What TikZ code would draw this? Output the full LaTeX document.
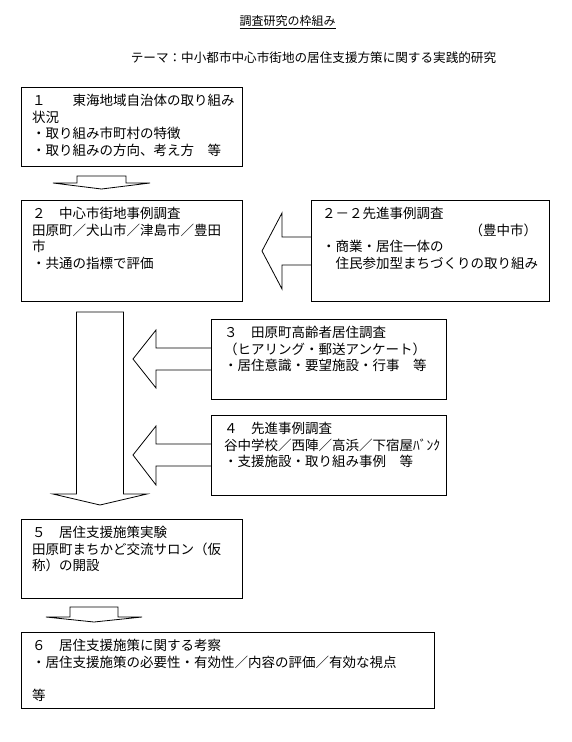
\documentclass[tikz,border=0pt]{standalone}
\usepackage{fontspec}
\setmainfont{Noto Sans CJK JP}
\newcommand\boxfont{\fontsize{13.5pt}{16.5pt}\selectfont}
\tikzset{
  box/.style={draw, line width=0.8pt, anchor=north west, inner sep=0pt},
  txt/.style={anchor=north west, align=left, inner xsep=11pt, inner ysep=7pt, font=\boxfont},
  blockarrow/.style={draw, line width=0.8pt, line join=miter}
}
\begin{document}
\begin{tikzpicture}[x=1pt, y=-1pt]
  \useasboundingbox (0,0) rectangle (572,742);
  % Titulos
  \node[font=\fontsize{12pt}{14pt}\selectfont] (titulo) at (287.5,22) {\underline{調査研究の枠組み}};
  \node[font=\fontsize{12.6pt}{14pt}\selectfont] (tema) at (313.5,58) {テーマ：中小都市中心市街地の居住支援方策に関する実践的研究};

  % Cajas
  \node[box, minimum width=221pt, minimum height=79pt] (b1) at (21,87) {};
  \node[box, minimum width=221pt, minimum height=101pt] (b2) at (21,200) {};
  \node[box, minimum width=238pt, minimum height=101pt] (b22) at (311,200) {};
  \node[box, minimum width=235pt, minimum height=80pt] (b3) at (211,319) {};
  \node[box, minimum width=235pt, minimum height=80pt] (b4) at (211,415) {};
  \node[box, minimum width=221pt, minimum height=79pt] (b5) at (21,519) {};
  \node[box, minimum width=413pt, minimum height=76pt] (b6) at (21,632) {};

  % Textos
  \node[txt] (t1) at (b1.north west) {１　　東海地域自治体の取り組み\\状況\\・取り組み市町村の特徴\\・取り組みの方向、考え方　等};
  \node[txt] (t2) at (b2.north west) {２　中心市街地事例調査\\田原町／犬山市／津島市／豊田\\市\\・共通の指標で評価};
  \node[txt, text width=215pt] (t22) at (b22.north west) {２－２先進事例調査\\\hspace*{\fill}（豊中市）\\・商業・居住一体の\\　住民参加型まちづくりの取り組み};
  \node[txt, inner xsep=13pt] (t3) at (b3.north west) {３　田原町高齢者居住調査\\（ヒアリング・郵送アンケート）\\・居住意識・要望施設・行事　等};
  \node[txt, inner xsep=13pt] (t4) at (b4.north west) {４　先進事例調査\\谷中学校／西陣／高浜／下宿屋ﾊﾞﾝｸ\\・支援施設・取り組み事例　等};
  \node[txt] (t5) at (b5.north west) {５　居住支援施策実験\\田原町まちかど交流サロン（仮\\称）の開設};
  \node[txt] (t6) at (b6.north west) {６　居住支援施策に関する考察\\・居住支援施策の必要性・有効性／内容の評価／有効な視点\\[16.5pt]等};

  % Flechas
  \draw[blockarrow] (77,176) -- (126,176) -- (126,183) -- (150,183) -- (101.5,189)
    -- (53,183) -- (77,183) -- cycle;
  \draw[blockarrow] (311,237) -- (282,237) -- (282,213) -- (262,251) -- (282,289)
    -- (282,265) -- (311,265);
  \draw[blockarrow] (76.5,312) -- (123.5,312) -- (123.5,494) -- (147,494) -- (100,505)
    -- (53,494) -- (76.5,494) -- cycle;
  \draw[blockarrow] (211,348) -- (156,348) -- (156,330) -- (133,359) -- (156,388)
    -- (156,370) -- (211,370);
  \draw[blockarrow] (211,444) -- (156,444) -- (156,426) -- (133,455) -- (156,485)
    -- (156,466) -- (211,466);
  \draw[blockarrow] (70,607) -- (118,607) -- (118,617) -- (142,617) -- (94,622)
    -- (46,617) -- (70,617) -- cycle;
\end{tikzpicture}
\end{document}
